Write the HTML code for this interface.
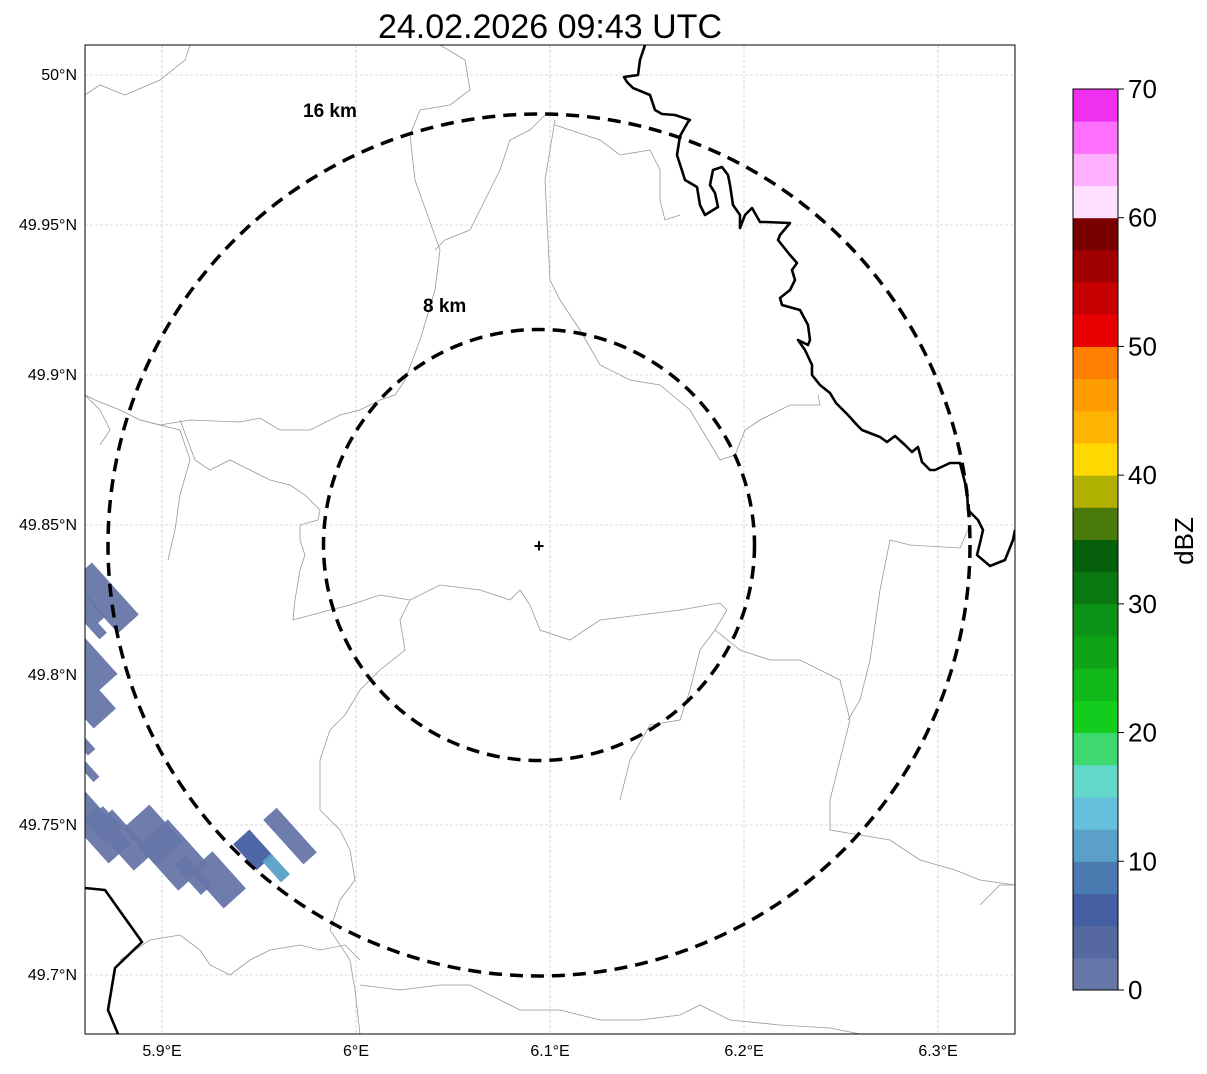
<!DOCTYPE html>
<html><head><meta charset="utf-8"><style>
body{margin:0;background:#fff;width:1207px;height:1069px;overflow:hidden;font-family:"Liberation Sans",sans-serif}
svg text{font-family:"Liberation Sans",sans-serif}
</style></head><body>
<svg id="svg" width="1207" height="1069">
<text x="550" y="38" font-size="34" text-anchor="middle">24.02.2026 09:43 UTC</text>
<defs><clipPath id="clip"><rect x="85" y="45" width="930" height="989"/></clipPath></defs>
<g id="grid"></g>
<g clip-path="url(#clip)">
<g id="borders" fill="none" stroke="#999" stroke-width="0.8">
<polyline points="85,95 100,85 125,95 160,80 185,60 190,45"/>
<polyline points="440,45 465,60 470,90 450,105 420,110 410,135 415,180 440,250 435,290 420,340 405,380 395,395 380,400 360,410 340,415 310,430 280,430 260,418 240,422 190,420 160,425 140,420 120,410 95,400 85,395"/>
<polyline points="545,115 530,130 510,140 500,170 470,230 445,240 435,250"/>
<polyline points="555,120 545,180 550,280 560,300 580,330 600,365 630,380 660,385 690,410 720,460 735,455 745,430 760,420 790,405 820,405 818,395"/>
<polyline points="555,125 600,140 620,155 650,150 660,170 660,200 665,220 680,215"/>
<polyline points="180,420 195,460 210,470 230,460 250,470 270,480 290,485 305,495 320,510 318,520 300,525 300,540 305,555 300,570 295,600 293,620 330,610 350,605 380,595 410,600 440,585 480,590 510,600 520,590 530,605 540,630 570,640 600,620 640,615 680,610 720,603 727,610 715,630 700,650 690,690 680,720 650,725 630,760 620,800"/>
<polyline points="410,600 400,620 405,650 380,670 360,690 345,715 330,730 320,760 320,810 340,830 350,850 355,880 340,900 330,930 350,960 355,990 360,1034"/>
<polyline points="140,420 180,430 190,460 180,495 175,530 168,560"/>
<polyline points="715,630 740,650 770,660 800,660 840,680 850,720 840,760 830,800 830,830 860,835 890,840 920,860 955,870 980,880 1015,885"/>
<polyline points="848,720 860,700 870,660 880,590 890,540 910,545 960,548 970,525"/>
<polyline points="120,960 150,940 180,935 200,950 210,965 230,975 250,960 270,950 300,945 320,950 345,945 360,960"/>
<polyline points="360,985 400,990 440,985 470,985 500,1000 520,1010 560,1010 600,1020 640,1020 680,1015 700,1005 730,1020 780,1025 830,1028 860,1034"/>
<polyline points="980,905 1000,885 1015,885"/>
<polyline points="85,395 100,410 110,430 100,445"/>
</g>
<g id="cells"></g>
<g fill="none" stroke="#000" stroke-width="2.6" stroke-linejoin="round">
<polyline points="645,45 640,60 638,75 624,77 627,82 633,88 650,95 655,110 662,114 675,115 690,120 688,122 680,136 677,155 685,180 697,187 700,205 705,215 718,207 715,193 710,185 713,170 722,167 728,175 730,185 733,205 740,215 740,228 745,215 752,208 760,222 765,222 790,223 780,235 778,240 790,255 797,263 792,270 795,280 790,290 780,298 782,305 800,310 808,325 810,340 808,345 798,340 805,350 812,365 812,375 820,385 830,393 836,403 848,415 857,425 862,430 880,437 887,442 895,436 905,445 912,452 918,447 922,462 930,470 935,470 950,463 960,463 963,475 967,490 968,510 978,520 983,530 980,543 977,555 990,566 1005,560 1013,540 1015,530"/>
<polyline points="85,888 105,890 142,942 115,968 108,1010 118,1034"/>
</g>
<g fill="none" stroke="#000" stroke-width="3.5" stroke-dasharray="13,8">
<circle cx="539" cy="545" r="431"/>
<circle cx="539" cy="545" r="215.5"/>
</g>
<text x="303" y="117" font-size="19" font-weight="bold">16 km</text>
<text x="423" y="312" font-size="19" font-weight="bold">8 km</text>
<text x="539" y="552" font-size="18" font-weight="bold" text-anchor="middle">+</text>
</g>
<rect x="85" y="45" width="930" height="989" fill="none" stroke="#000" stroke-width="1"/>
<g id="ticks" font-size="16"></g>
<g id="cbar"></g>
<text transform="translate(1193,541) rotate(-90)" font-size="26" text-anchor="middle">dBZ</text>
</svg>
<script>
const lonTicks=[5.9,6.0,6.1,6.2,6.3];
const lonLabels=["5.9°E","6°E","6.1°E","6.2°E","6.3°E"];
const latTicks=[50,49.95,49.9,49.85,49.8,49.75,49.7];
const latLabels=["50°N","49.95°N","49.9°N","49.85°N","49.8°N","49.75°N","49.7°N"];
const cbarTicks=[0,10,20,30,40,50,60,70];
const cbarColors=["#6676a8","#5568a0","#4560a2","#4a7ab0","#5aa0c8","#66c0dc","#62d8c8","#3dd870","#12cc1e","#10b818","#0ea418","#0c9418","#0a7810","#065f0a","#4a7a0a","#b0b000","#ffd800","#ffb400","#ff9c00","#ff8000","#e80000","#c80000","#a00000","#7a0000","#fde0ff","#ffb0ff","#ff70ff","#f030f0"];
const cellLon=[5.8706,5.8619,5.8645,5.8619,5.8619,5.8603,5.8619,5.8645,5.8696,5.8799,5.8954,5.9057,5.9160,5.9289,5.9469,5.9588,5.9660,5.8732];
const cellLat=[49.8257,49.8233,49.8167,49.8050,49.7917,49.7767,49.7683,49.7533,49.7467,49.7450,49.7467,49.7400,49.7333,49.7317,49.7417,49.7357,49.7463,49.7517];
const cellDbz=[1,1,1,1,1,1,1,1,1,2,1,1,2,1,5,12,1,1];
const cellLen=[70,40,30,60,50,20,25,60,50,60,50,60,40,50,35,28,60,30];
const cellWid=[28,12,10,25,30,10,8,20,30,25,35,40,15,30,22,12,18,8];
const X=l=>162+(l-5.9)*1940, Y=a=>675-(a-49.8)*3000;
const NS='http://www.w3.org/2000/svg';
const mk=(t,a,p)=>{const e=document.createElementNS(NS,t);for(const k in a)e.setAttribute(k,a[k]);p.appendChild(e);return e;};
const grid=document.getElementById('grid'),ticks=document.getElementById('ticks');
lonTicks.forEach((v,i)=>{const l=mk('line',{x1:X(v),x2:X(v),y1:45,y2:1034,stroke:'#bbb','stroke-width':0.6,'stroke-dasharray':'3,2'},grid);


const t=mk('text',{x:X(v),y:1056,'text-anchor':'middle'},ticks);t.textContent=lonLabels[i];

});
latTicks.forEach((v,i)=>{const l=mk('line',{x1:85,x2:1015,y1:Y(v),y2:Y(v),stroke:'#bbb','stroke-width':0.6,'stroke-dasharray':'3,2'},grid);


const t=mk('text',{x:77,y:Y(v)+5,'text-anchor':'end'},ticks);t.textContent=latLabels[i];

});
const cells=document.getElementById('cells');
cellLon.forEach((v,i)=>{const c=cbarColors[Math.min(27,Math.floor(cellDbz[i]/2.5))];
const r=mk('rect',{x:-cellLen[i]/2,y:-cellWid[i]/2,width:cellLen[i],height:cellWid[i],fill:c,'fill-opacity':0.95,transform:`translate(${X(v)},${Y(cellLat[i])}) rotate(48)`},cells);

});
const cb=document.getElementById('cbar');const cbTop=89,cbBot=990;
const CY=d=>cbBot-(d/70)*(cbBot-cbTop);
for(let i=0;i<28;i++){const r=mk('rect',{x:1073,y:CY((i+1)*2.5),width:45,height:CY(i*2.5)-CY((i+1)*2.5)+0.5,fill:cbarColors[i]},cb);

}
mk('rect',{x:1073,y:cbTop,width:45,height:cbBot-cbTop,fill:'none',stroke:'#000','stroke-width':1},cb);
cbarTicks.forEach(v=>{mk('line',{x1:1118,x2:1124,y1:CY(v),y2:CY(v),stroke:'#000'},cb);
const t=mk('text',{x:1128,y:CY(v)+9,'font-size':26},cb);t.textContent=v;

});
</script>
</body></html>
